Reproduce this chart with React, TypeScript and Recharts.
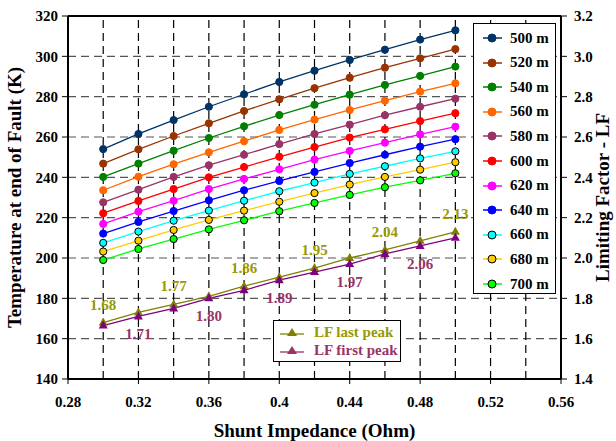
import { ComposedChart, Line, XAxis, YAxis, ReferenceLine, LabelList, Label } from "recharts"

const impedance = [0.3, 0.32, 0.34, 0.36, 0.38, 0.4, 0.42, 0.44, 0.46, 0.48, 0.5]

const temp500 = [254, 261.5, 268.4, 275, 281.2, 287.3, 292.9, 298.2, 303.3, 308.3, 312.9]
const temp520 = [246.8, 253.9, 260.5, 266.8, 272.9, 278.7, 284.2, 289.4, 294.4, 299, 303.6]
const temp540 = [240.2, 246.8, 253.2, 259.5, 265.3, 270.9, 276, 281, 285.8, 290.3, 294.9]
const temp560 = [233.6, 240.3, 246.5, 252.4, 257.9, 263.5, 268.6, 273.4, 278, 282.5, 286.6]
const temp580 = [227.6, 233.9, 240.2, 246, 251.2, 256.5, 261.5, 266.1, 270.8, 275, 279]
const temp600 = [222.2, 228.3, 234.2, 240, 245.1, 250.2, 255, 259.7, 263.8, 267.9, 271.8]
const temp620 = [216.9, 223, 228.4, 234.2, 239.2, 244, 248.8, 253.1, 257.2, 261.3, 265.1]
const temp640 = [212.1, 217.9, 223.3, 228.6, 233.6, 238.2, 242.7, 247.1, 251.2, 255.2, 258.9]
const temp660 = [207.5, 213.1, 218.5, 223.5, 228.4, 233.1, 237.4, 241.7, 245.5, 249.4, 252.9]
const temp680 = [203.2, 208.6, 213.9, 218.9, 223.5, 227.9, 232.2, 236.4, 240.2, 243.8, 247.5]
const temp700 = [199, 204.5, 209.4, 214.2, 218.7, 223.2, 227.3, 231.3, 235.1, 238.5, 242]

const lfLast = [1.68, 1.73, 1.77, 1.81, 1.86, 1.905, 1.95, 2.0, 2.04, 2.085, 2.13]
const lfFirst = [1.665, 1.71, 1.75, 1.8, 1.84, 1.89, 1.93, 1.97, 2.02, 2.06, 2.1]
const lfLastLabelled = [0, 2, 4, 6, 8, 10]
const lfFirstLabelled = [1, 3, 5, 7, 9]

const xTicks = [0.28, 0.32, 0.36, 0.4, 0.44, 0.48, 0.52, 0.56]
const xGrid = [0.3, 0.32, 0.34, 0.36, 0.38, 0.4, 0.42, 0.44, 0.46, 0.48, 0.5, 0.52, 0.54]
const yTicks = [140, 160, 180, 200, 220, 240, 260, 280, 300, 320]
const yGrid = [160, 180, 200, 220, 240, 260, 280, 300]
const lfTicks = [1.4, 1.6, 1.8, 2.0, 2.2, 2.4, 2.6, 2.8, 3.0, 3.2]

const temps = [
  { name: "500 m", key: "t500", values: temp500, color: "#003366", edge: "#003366" },
  { name: "520 m", key: "t520", values: temp520, color: "#993300", edge: "#993300" },
  { name: "540 m", key: "t540", values: temp540, color: "#008000", edge: "#008000" },
  { name: "560 m", key: "t560", values: temp560, color: "#FF6600", edge: "#FF6600" },
  { name: "580 m", key: "t580", values: temp580, color: "#993366", edge: "#993366" },
  { name: "600 m", key: "t600", values: temp600, color: "#FF0000", edge: "#FF0000" },
  { name: "620 m", key: "t620", values: temp620, color: "#FF00FF", edge: "#FF00FF" },
  { name: "640 m", key: "t640", values: temp640, color: "#0000FF", edge: "#0000FF" },
  { name: "660 m", key: "t660", values: temp660, color: "#00FFFF", edge: "#000000" },
  { name: "680 m", key: "t680", values: temp680, color: "#FFCC00", edge: "#000000" },
  { name: "700 m", key: "t700", values: temp700, color: "#00FF00", edge: "#000000" },
]

const data = impedance.map((x, i) => {
  const row: Record<string, number> = { x, lfLast: lfLast[i], lfFirst: lfFirst[i] }
  temps.forEach(s => { row[s.key] = s.values[i] })
  return row
})

const FONT = "Liberation Serif, Times New Roman, serif"
const OLIVE = "#808000"
const OLIVE_TXT = "#999900"
const PURPLE = "#800080"
const PURPLE_TXT = "#993366"

const triDot = (color: string) => (p: any) => {
  const { cx, cy, index } = p
  if (cx == null || cy == null) return <g key={index} />
  return <polygon key={index} points={`${cx},${cy - 5} ${cx - 4.5},${cy + 3} ${cx + 4.5},${cy + 3}`} fill={color} />
}

const lfLabel = (which: number[], color: string, off: number) => (p: any) => {
  const { x, y, value, index } = p
  if (!which.includes(index)) return null
  return (
    <text key={index} x={x} y={y + off} textAnchor="middle" dominantBaseline="central"
      fill={color} style={{ fontSize: 15, fontWeight: "bold", fontFamily: FONT }}>
      {Number(value).toFixed(2)}
    </text>
  )
}

const tick = { fill: "#000", fontSize: 15, fontWeight: "bold", style: { fontFamily: FONT } }
const titleStyle = { fontSize: 19, fontWeight: "bold", fill: "#000", fontFamily: FONT }

export default function App() {
  return (
    <div style={{ position: "absolute", left: 0, top: 0, width: 616, height: 441, background: "#fff", fontFamily: FONT }}>
      <ComposedChart width={616} height={441} data={data} margin={{ top: 16, right: 0, left: 0, bottom: 0 }}
        style={{ fontFamily: FONT }}>
        <XAxis dataKey="x" type="number" domain={[0.28, 0.56]} ticks={xTicks} tick={tick}
          tickFormatter={v => String(Number(v.toFixed(2)))} height={62} tickSize={5} tickMargin={12}
          axisLine={{ stroke: "#000", strokeWidth: 2 }} tickLine={{ stroke: "#000" }}>
          <Label value="Shunt Impedance (Ohm)" position="insideBottom" offset={4} style={titleStyle} />
        </XAxis>
        <YAxis yAxisId="left" domain={[140, 320]} ticks={yTicks} tick={tick} width={68} tickSize={6} tickMargin={4}
          axisLine={{ stroke: "#000", strokeWidth: 2 }} tickLine={{ stroke: "#000" }}>
          <Label value="Temperature at end of Fault (K)" angle={-90} position="insideLeft" offset={14}
            style={{ ...titleStyle, textAnchor: "middle" }} />
        </YAxis>
        <YAxis yAxisId="right" orientation="right" domain={[1.4, 3.2]} ticks={lfTicks} tick={tick} width={55}
          tickSize={6} tickMargin={7} tickFormatter={v => v.toFixed(1)}
          axisLine={{ stroke: "#000", strokeWidth: 2 }} tickLine={{ stroke: "#000" }}>
          <Label value="Limiting Factor - LF" angle={-90} position="insideRight" offset={14}
            style={{ ...titleStyle, textAnchor: "middle" }} />
        </YAxis>

        {yGrid.map(v => (
          <ReferenceLine key={`h${v}`} yAxisId="left" y={v} stroke="#555" strokeWidth={1.2} strokeDasharray="8 5" />
        ))}
        {xGrid.map(v => (
          <ReferenceLine key={`v${v}`} yAxisId="left" x={v} stroke="#000" strokeWidth={1.2} strokeDasharray="8 5" />
        ))}
        <ReferenceLine yAxisId="left" y={320} stroke="#000" strokeWidth={2} />

        {temps.map(s => (
          <Line key={s.key} yAxisId="left" dataKey={s.key} name={s.name} stroke={s.color} strokeWidth={1.3}
            dot={{ r: 3.6, fill: s.color, stroke: s.edge, strokeWidth: 1 }} isAnimationActive={false} />
        ))}

        <Line yAxisId="right" dataKey="lfLast" name="LF last peak" stroke={OLIVE} strokeWidth={1.3}
          dot={triDot(OLIVE)} isAnimationActive={false}>
          <LabelList dataKey="lfLast" content={lfLabel(lfLastLabelled, OLIVE_TXT, -18)} />
        </Line>
        <Line yAxisId="right" dataKey="lfFirst" name="LF first peak" stroke={PURPLE} strokeWidth={1.3}
          dot={triDot(PURPLE)} isAnimationActive={false}>
          <LabelList dataKey="lfFirst" content={lfLabel(lfFirstLabelled, PURPLE_TXT, 18)} />
        </Line>
      </ComposedChart>

      <div style={{ position: "absolute", left: 473, top: 23, width: 81, height: 269, border: "1px solid #000", background: "#fff" }}>
        {temps.map((s, i) => (
          <div key={s.key} style={{ position: "absolute", left: 0, top: 2 + i * 24.6, height: 24, display: "flex", alignItems: "center" }}>
            <svg width={30} height={14} style={{ marginLeft: 6 }}>
              <line x1={3} y1={7} x2={22} y2={7} stroke={s.color} strokeWidth={1.5} />
              <circle cx={12} cy={7} r={4} fill={s.color} stroke={s.edge} strokeWidth={1} />
            </svg>
            <span style={{ fontSize: 15, fontWeight: "bold", color: "#000", whiteSpace: "nowrap" }}>{s.name}</span>
          </div>
        ))}
      </div>

      <div style={{ position: "absolute", left: 273, top: 320, width: 126, height: 40, border: "1px solid #000", background: "#fff" }}>
        {[{ name: "LF last peak", line: OLIVE, text: OLIVE_TXT }, { name: "LF first peak", line: PURPLE_TXT, text: PURPLE_TXT }].map((e, i) => (
          <div key={e.name} style={{ position: "absolute", left: 0, top: 2 + i * 18, height: 18, display: "flex", alignItems: "center" }}>
            <svg width={36} height={14} style={{ marginLeft: 4 }}>
              <line x1={2} y1={9} x2={26} y2={9} stroke={e.line} strokeWidth={1.3} />
              <polygon points="14,3 9,11 19,11" fill={e.line} />
            </svg>
            <span style={{ fontSize: 15, fontWeight: "bold", color: e.text, whiteSpace: "nowrap" }}>{e.name}</span>
          </div>
        ))}
      </div>
    </div>
  )
}
